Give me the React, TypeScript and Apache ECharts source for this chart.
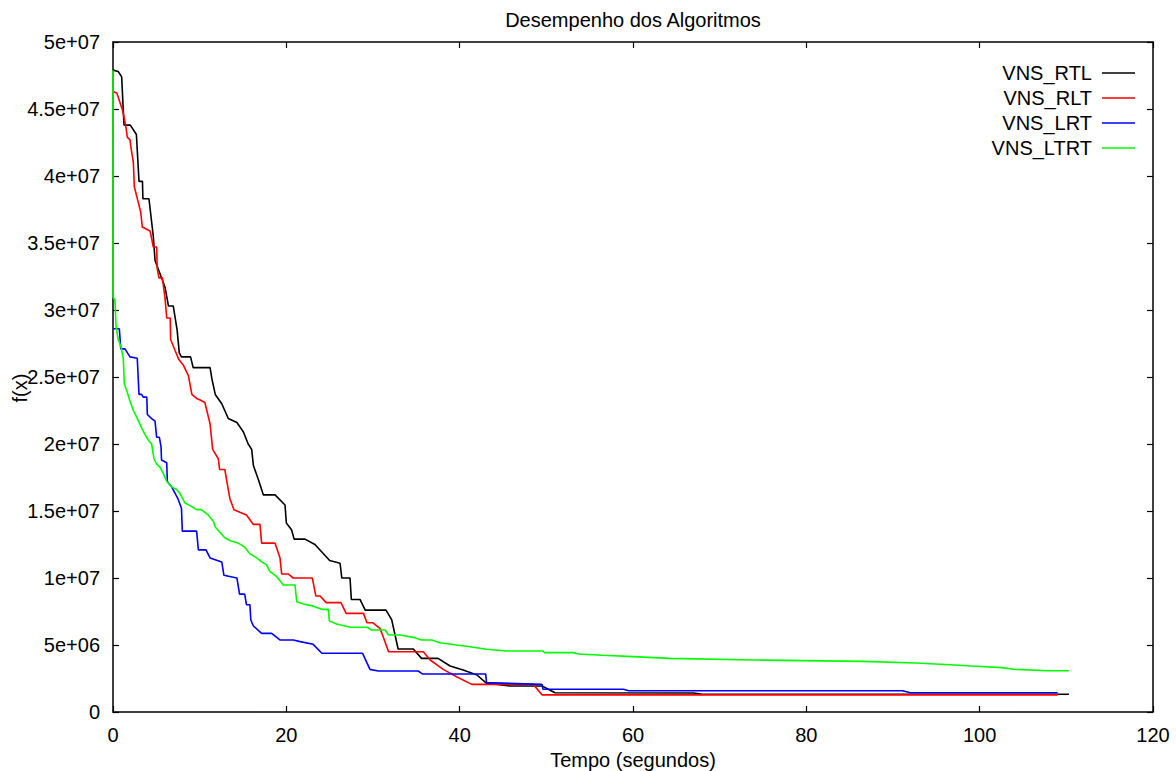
import React, { useEffect, useRef } from "react";
import * as echarts from "echarts";

// Values: x in seconds, y in millions (f(x) / 1e6)
const SERIES_NAMES = ["VNS_RTL", "VNS_RLT", "VNS_LRT", "VNS_LTRT"];
const SERIES_COLORS = ["#000000", "#ff0000", "#0000ff", "#00ff00"];

const rtl: [number, number][] = [
  [0, 47.9], [0.6, 47.8], [1.0, 47.4], [1.27, 43.8], [2.0, 43.8], [2.7, 43.1], [3.0, 39.6], [3.4, 39.6],
  [3.45, 38.3], [4.15, 38.3], [4.65, 35.5], [4.85, 33.7], [5.6, 32.4], [6.0, 31.7], [6.4, 30.3], [6.95, 30.3],
  [7.15, 29.5], [7.4, 28.5], [7.65, 26.8], [7.9, 26.5], [8.95, 26.5], [9.25, 25.7], [11.2, 25.7], [11.4, 24.9],
  [11.8, 23.7], [12.55, 23.0], [13.3, 21.9], [14.3, 21.6], [15.05, 20.9], [15.6, 20.0], [16.0, 19.6], [16.2, 18.4],
  [16.8, 17.3], [17.35, 16.2], [18.7, 16.2], [19.85, 15.45], [20.0, 14.1], [20.6, 13.6], [20.9, 12.9], [22.15, 12.9],
  [23.3, 12.5], [25.0, 11.3], [26.2, 11.1], [26.4, 10.0], [27.35, 10.0], [27.5, 8.4], [28.5, 8.4], [29.1, 7.6],
  [31.5, 7.6], [32.15, 6.9], [32.9, 4.7], [34.65, 4.7], [35.6, 4.0], [37.5, 4.0], [38.9, 3.43], [40.4, 3.13],
  [42.0, 2.76], [43.1, 2.14], [45.8, 1.94], [49.5, 1.94], [51.0, 1.44], [67.0, 1.42], [68.0, 1.32], [110.3, 1.32],
];

const rlt: [number, number][] = [
  [0.04, 46.3], [0.43, 46.2], [0.6, 45.9], [0.9, 45.3], [1.1, 44.9], [1.27, 44.4], [1.5, 43.6], [1.65, 42.9],
  [1.96, 42.7], [2.08, 42.1], [2.35, 41.0], [2.46, 39.2], [2.85, 38.2], [3.2, 37.3], [3.38, 36.2], [4.27, 35.9],
  [4.47, 35.3], [4.65, 34.7], [5.04, 34.7], [5.1, 33.1], [5.3, 32.4], [5.7, 32.4], [6.0, 30.9], [6.2, 29.4],
  [6.6, 29.4], [6.65, 27.8], [7.15, 27.0], [7.6, 26.3], [8.1, 25.9], [8.7, 25.1], [9.1, 23.7], [9.65, 23.4],
  [10.0, 23.3], [10.6, 23.1], [11.2, 21.5], [11.5, 19.6], [12.15, 18.9], [12.3, 18.1], [12.9, 18.1], [13.3, 16.6],
  [13.5, 15.9], [13.96, 15.1], [14.65, 14.9], [15.4, 14.7], [16.2, 14.0], [16.96, 14.0], [17.15, 12.6], [18.7, 12.6],
  [19.27, 11.5], [19.46, 10.3], [20.2, 10.3], [20.8, 10.0], [23.0, 10.0], [23.4, 8.66], [23.9, 8.66], [24.6, 8.16],
  [26.3, 8.16], [26.5, 7.9], [26.9, 7.36], [28.9, 7.36], [29.3, 6.66], [30.0, 6.66], [30.8, 6.24], [31.1, 5.75],
  [31.8, 4.5], [35.8, 4.5], [36.6, 3.88], [38.1, 3.18], [39.65, 2.63], [41.4, 2.06], [48.5, 2.06], [49.5, 1.28],
  [109.0, 1.28],
];

const lrt: [number, number][] = [
  [0.04, 28.6], [0.73, 28.6], [0.9, 27.1], [1.38, 27.1], [1.96, 26.5], [2.8, 26.4], [3.0, 23.7], [3.3, 23.7],
  [3.5, 23.5], [3.9, 23.5], [3.96, 22.2], [4.46, 21.9], [4.85, 21.7], [5.04, 20.5], [5.35, 20.5], [5.54, 19.8],
  [5.6, 18.8], [6.2, 18.6], [6.27, 17.2], [6.77, 16.8], [7.5, 15.9], [7.9, 15.2], [8.0, 13.5], [9.65, 13.5],
  [9.85, 12.1], [10.73, 12.1], [11.2, 11.5], [12.55, 11.2], [12.8, 10.2], [14.3, 10.0], [14.6, 8.8], [15.2, 8.8],
  [15.4, 8.0], [15.8, 8.0], [15.9, 6.87], [16.2, 6.42], [17.15, 5.87], [18.3, 5.87], [19.3, 5.37], [20.8, 5.37],
  [21.6, 5.25], [23.1, 5.05], [24.1, 4.38], [28.8, 4.38], [29.65, 3.18], [30.6, 3.06], [35.2, 3.06], [35.7, 2.84],
  [43.0, 2.84], [43.1, 2.19], [49.5, 2.06], [49.6, 1.7], [58.9, 1.7], [59.5, 1.59], [91.1, 1.59], [92.0, 1.44],
  [109.0, 1.44],
];

const ltrt: [number, number][] = [
  [0, 47.9], [0, 31.0], [0.23, 30.7], [0.35, 28.8], [0.6, 27.8], [0.9, 27.3], [1.19, 26.4], [1.3, 24.5],
  [1.58, 24.0], [1.96, 23.2], [2.35, 22.5], [2.73, 22.0], [3.1, 21.5], [3.3, 21.2], [3.7, 20.7], [4.07, 20.3],
  [4.46, 20.0], [4.73, 18.9], [5.04, 18.5], [5.4, 18.3], [5.8, 17.8], [6.2, 17.2], [6.77, 16.8], [7.35, 16.6],
  [7.73, 16.3], [8.3, 15.6], [8.9, 15.4], [9.65, 15.1], [10.2, 15.1], [11.0, 14.7], [11.6, 14.2], [11.8, 13.8],
  [12.9, 13.0], [13.5, 12.8], [14.46, 12.6], [15.2, 12.3], [15.8, 11.8], [16.6, 11.5], [17.15, 11.2], [17.7, 11.0],
  [18.1, 10.5], [18.9, 10.1], [19.65, 9.48], [21.0, 9.48], [21.2, 8.23], [21.96, 8.06], [23.1, 7.9], [24.1, 7.66],
  [24.85, 7.66], [24.96, 6.8], [25.8, 6.57], [27.35, 6.32], [29.3, 6.32], [29.85, 6.12], [31.4, 6.12], [31.8, 5.75],
  [33.1, 5.75], [34.65, 5.57], [35.6, 5.37], [36.8, 5.37], [37.7, 5.17], [39.65, 5.0], [41.2, 4.87], [43.1, 4.68],
  [45.4, 4.55], [49.6, 4.55], [49.8, 4.43], [53.1, 4.43], [53.7, 4.33], [56.5, 4.23], [60.0, 4.13], [64.2, 4.0],
  [74.1, 3.88], [86.5, 3.78], [92.6, 3.66], [96.6, 3.53], [99.0, 3.43], [102.6, 3.31], [103.9, 3.19], [107.9, 3.08],
  [110.3, 3.08],
];

const SERIES_DATA = [rtl, rlt, lrt, ltrt];

const X_MIN = 0;
const X_MAX = 120;
const X_STEP = 20;
const Y_MIN = 0;
const Y_MAX = 50;
const Y_STEP = 5;

const TITLE = "Desempenho dos Algoritmos";
const X_NAME = "Tempo (segundos)";
const Y_NAME = "f(x)";

const FONT = "'Liberation Sans', Arial, sans-serif";
const FS = 20;

function gnuFormat(v: number): string {
  if (v === 0) return "0";
  const val = v * 1e6;
  const exp = Math.floor(Math.log10(val) + 1e-9);
  const mant = Math.round((val / Math.pow(10, exp)) * 100) / 100;
  return `${mant}e+${exp < 10 ? "0" + exp : exp}`;
}

export default function App() {
  const ref = useRef<HTMLDivElement>(null);
  useEffect(() => {
    if (!ref.current) return;
    const chart = echarts.init(ref.current, null, { renderer: "svg" });
    const gridLeft = 113, gridTop = 42, gridRight = 23, gridBottom = 59;
    const axisLine = { show: true, onZero: false, lineStyle: { color: "#000", width: 1.5 } };
    const tick = { show: true, inside: true, length: 6, lineStyle: { color: "#000", width: 1.2 } };
    const label = { fontSize: FS, color: "#000", fontFamily: FONT };
    const legendItems: any[] = [];
    SERIES_NAMES.forEach((name, i) => {
      const y = 73 + 25 * i;
      legendItems.push({
        type: "text",
        x: 1092,
        y,
        style: { text: name, fill: "#000", font: `${FS}px ${FONT}`, textAlign: "right", textVerticalAlign: "middle" },
      });
      legendItems.push({
        type: "line",
        shape: { x1: 1102, y1: y, x2: 1135, y2: y },
        style: { stroke: SERIES_COLORS[i], lineWidth: 1.5 },
      });
    });
    chart.setOption({
      animation: false,
      backgroundColor: "#fff",
      grid: { left: gridLeft, top: gridTop, right: gridRight, bottom: gridBottom, containLabel: false },
      xAxis: [
        {
          type: "value", min: X_MIN, max: X_MAX, interval: X_STEP, position: "bottom",
          axisLine, axisTick: tick, splitLine: { show: false },
          axisLabel: { ...label, margin: 13 },
        },
        {
          type: "value", min: X_MIN, max: X_MAX, interval: X_STEP, position: "top",
          axisLine, axisTick: tick, splitLine: { show: false }, axisLabel: { show: false },
        },
      ],
      yAxis: [
        {
          type: "value", min: Y_MIN, max: Y_MAX, interval: Y_STEP, position: "left",
          axisLine, axisTick: tick, splitLine: { show: false },
          axisLabel: { ...label, margin: 13, formatter: (v: number) => gnuFormat(v) },
        },
        {
          type: "value", min: Y_MIN, max: Y_MAX, interval: Y_STEP, position: "right",
          axisLine, axisTick: tick, splitLine: { show: false }, axisLabel: { show: false },
        },
      ],
      series: SERIES_NAMES.map((name, i) => ({
        name,
        type: "line",
        xAxisIndex: 0,
        yAxisIndex: 0,
        data: SERIES_DATA[i],
        showSymbol: false,
        symbol: "none",
        lineStyle: { color: SERIES_COLORS[i], width: 1.6 },
        itemStyle: { color: SERIES_COLORS[i] },
        z: 2 + i,
      })),
      graphic: [
        {
          type: "text", x: 633, y: 20,
          style: { text: TITLE, fill: "#000", font: `${FS}px ${FONT}`, textAlign: "center", textVerticalAlign: "middle" },
        },
        {
          type: "text", x: 633, y: 760,
          style: { text: X_NAME, fill: "#000", font: `${FS}px ${FONT}`, textAlign: "center", textVerticalAlign: "middle" },
        },
        {
          type: "text", x: 20, y: 388, rotation: Math.PI / 2,
          style: { text: Y_NAME, fill: "#000", font: `${FS}px ${FONT}`, textAlign: "center", textVerticalAlign: "middle" },
        },
        ...legendItems,
      ],
    });
    return () => chart.dispose();
  }, []);
  return <div ref={ref} style={{ position: "fixed", left: 0, top: 0, width: 1176, height: 771 }} />;
}
